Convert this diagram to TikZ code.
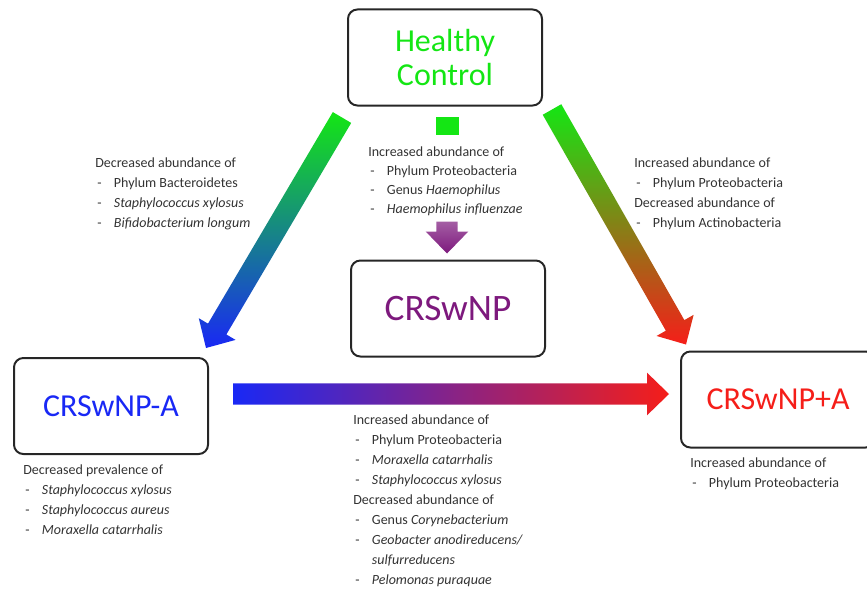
\documentclass[tikz,border=0pt]{standalone}
\usepackage{fontspec}
\setmainfont{Carlito}
\usepackage{tikz}
\usetikzlibrary{calc}
\definecolor{hcgreen}{RGB}{20,230,20}
\definecolor{crblue}{RGB}{25,40,245}
\definecolor{crred}{RGB}{245,30,25}
\definecolor{crpurple}{RGB}{125,25,125}
\definecolor{arrpurple}{RGB}{140,30,160}
\tikzstyle{every node}=[font=\fontsize{10.5}{15}\selectfont,text=black!80]
\tikzstyle{stage}=[draw=black!85,line width=1.5pt,rounded corners=7pt,minimum width=145.5pt,minimum height=72pt,align=center,inner sep=0pt,font=\fontsize{24}{25}\selectfont]
\tikzstyle{note}=[align=left,anchor=north west,inner sep=0pt]
\newcommand{\li}[1]{\makebox[14pt][l]{\hspace{1.5pt}-}#1}
% block arrow between two named coordinates
\newcommand{\blockarrow}[3]{%
  \coordinate (ba-base) at ($(#3)!16.5pt!(#2)$);
  \shade[#1] ($(#2)!8pt!90:(#3)$) -- ($(ba-base)!8pt!90:(#3)$) -- ($(ba-base)!16pt!90:(#3)$) -- (#3)
    -- ($(ba-base)!16pt!-90:(#3)$) -- ($(ba-base)!8pt!-90:(#3)$) -- ($(#2)!8pt!-90:(#3)$) -- cycle;
}

\begin{document}
\begin{tikzpicture}[line cap=round,line join=round,x=0.75pt,y=-0.75pt]
  \useasboundingbox (0,0) rectangle (867,592);
  \clip (0,0) rectangle (867,592);

  % the four groups
  \node[stage,text=hcgreen] (hc) at (445,57.5) {Healthy\\Control};
  \node[stage,text=crpurple,font=\fontsize{28}{30}\selectfont] (crs) at (448,308.5) {CRSwNP};
  \node[stage,text=crblue] (crsa) at (111,406) {CRSwNP-A};
  \node[stage,text=crred] (crsp) at (778,399.5) {CRSwNP+A};

  % arrow ends
  \coordinate (l-tail) at ($(hc.south west)+(-5,11)$);
  \coordinate (l-tip) at ($(crsa.north east)+(-3,-9)$);
  \coordinate (r-tail) at ($(hc.south east)+(9,3)$);
  \coordinate (r-tip) at ($(crsp.north west)+(6,-6)$);
  \coordinate (m-tail) at ($(crsa.east)+(24,-12)$);
  \coordinate (m-tip) at ($(crsp.west)+(-11,-5.5)$);
  \coordinate (d-tail) at ($(crs.north)+(-1,-38)$);
  \coordinate (d-tip) at ($(crs.north)+(-1,-6)$);

  \blockarrow{top color=hcgreen,bottom color=crblue}{l-tail}{l-tip}
  \blockarrow{top color=hcgreen,bottom color=crred}{r-tail}{r-tip}
  \blockarrow{left color=crblue,middle color=arrpurple,right color=crred}{m-tail}{m-tip}
  \blockarrow{top color=crpurple!70,bottom color=crpurple}{d-tail}{d-tip}
  \fill[hcgreen] (436,117) rectangle (459,135);

  % findings
  \node[note] (n-l) at (95,158) {Decreased abundance of\\
    \li{Phylum Bacteroidetes}\\
    \li{\textit{Staphylococcus xylosus}}\\
    \li{\textit{Bifidobacterium longum}}};
  \node[note,font=\fontsize{10.5}{14.25}\selectfont] (n-d) at (368,147) {Increased abundance of\\
    \li{Phylum Proteobacteria}\\
    \li{Genus \textit{Haemophilus}}\\
    \li{\textit{Haemophilus influenzae}}};
  \node[note] (n-r) at (634,158) {Increased abundance of\\
    \li{Phylum Proteobacteria}\\
    Decreased abundance of\\
    \li{Phylum Actinobacteria}};
  \node[note] (n-a) at (23,465) {Decreased prevalence of\\
    \li{\textit{Staphylococcus xylosus}}\\
    \li{\textit{Staphylococcus aureus}}\\
    \li{\textit{Moraxella catarrhalis}}};
  \node[note] (n-m) at (353,415) {Increased abundance of\\
    \li{Phylum Proteobacteria}\\
    \li{\textit{Moraxella catarrhalis}}\\
    \li{\textit{Staphylococcus xylosus}}\\
    Decreased abundance of\\
    \li{Genus \textit{Corynebacterium}}\\
    \li{\textit{Geobacter anodireducens/}}\\
    \makebox[14pt]{}\textit{sulfurreducens}\\
    \li{\textit{Pelomonas puraquae}}};
  \node[note] (n-p) at (690,458) {Increased abundance of\\
    \li{Phylum Proteobacteria}};
\end{tikzpicture}
\end{document}
